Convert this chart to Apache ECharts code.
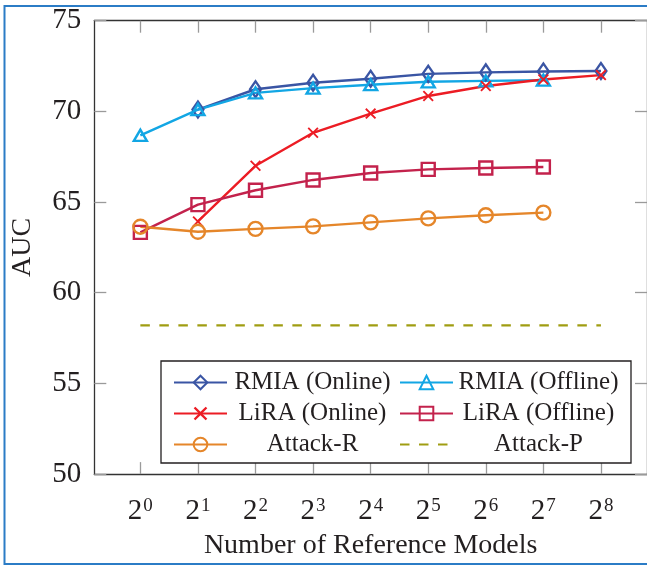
<!DOCTYPE html>
<html>
<head>
<meta charset="utf-8">
<script src="https://cdn.jsdelivr.net/npm/echarts@6/dist/echarts.min.js"></script>
<style>
  html, body { margin: 0; padding: 0; background: #fff; }
  #chart { width: 647px; height: 565px; }
</style>
</head>
<body>
<div id="chart"></div>
<script>
// Number of reference models: 2^0 .. 2^8 (x positions are the exponents)
const exponents = [0, 1, 2, 3, 4, 5, 6, 7, 8];

// AUC values, one per exponent (null where the method was not run)
const rmiaOnline  = [null, 70.1, 71.22, 71.58, 71.8, 72.07, 72.15, 72.2, 72.23];
const rmiaOffline = [68.68, 70.1, 71.02, 71.28, 71.47, 71.63, 71.68, 71.72, null];
const liraOnline  = [null, 63.93, 67.0, 68.82, 69.88, 70.85, 71.4, 71.76, 72.0];
const liraOffline = [63.33, 64.86, 65.65, 66.22, 66.6, 66.8, 66.88, 66.93, null];
const attackR     = [63.64, 63.36, 63.52, 63.66, 63.88, 64.1, 64.27, 64.42, null];
const attackP     = 58.2; // constant across all model counts

const FONT = '"Liberation Serif", "DejaVu Serif", serif';
const TXT = '#231f20';

function pairs(vals) {
  return exponents.map((e, i) => [e, vals[i]]).filter(p => p[1] !== null);
}

const crossPath = 'path://M0,1.2L1.2,0L5,3.8L8.8,0L10,1.2L6.2,5L10,8.8L8.8,10L5,6.2L1.2,10L0,8.8L3.8,5Z';

function markerSeries(name, color, vals, symbol, size, hollow) {
  return {
    name: name,
    type: 'line',
    data: pairs(vals),
    symbol: symbol,
    symbolSize: size,
    showAllSymbol: true,
    lineStyle: { color: color, width: 2.4 },
    itemStyle: hollow
      ? { color: 'rgba(255,255,255,0)', borderColor: color, borderWidth: 2.4 }
      : { color: color, borderWidth: 0 },
    emphasis: { disabled: true },
    z: 3
  };
}

const series = [
  markerSeries('RMIA (Online)', '#3a55a4', rmiaOnline, 'diamond', [11, 16], true),
  markerSeries('RMIA (Offline)', '#12a6e4', rmiaOffline, 'triangle', [13, 11], true),
  markerSeries('LiRA (Online)', '#ec1c24', liraOnline, crossPath, 11, false),
  markerSeries('LiRA (Offline)', '#c3224c', liraOffline, 'rect', 13, true),
  markerSeries('Attack-R', '#e5862a', attackR, 'circle', 14, true),
  {
    name: 'Attack-P',
    type: 'line',
    data: [[exponents[0], attackP], [exponents[exponents.length - 1], attackP]],
    symbol: 'none',
    lineStyle: { color: '#a09d12', width: 2.4, type: [9.5, 9.5] },
    itemStyle: { color: '#a09d12' },
    emphasis: { disabled: true },
    z: 2
  }
];

const gridBox = { left: 94.3, top: 20.7, width: 554.2, height: 460 };

const tickStyle = { show: true, inside: true, length: 12, lineStyle: { color: '#9a9a9a', width: 1.3 } };
const axisLineStyle = { show: true, onZero: false, lineStyle: { color: '#333', width: 1.3 } };

const option = {
  animation: false,
  backgroundColor: '#fff',
  textStyle: { fontFamily: FONT },
  grid: Object.assign({ containLabel: false }, gridBox),
  xAxis: [
    {
      type: 'value', min: -0.8, max: 8.8, position: 'bottom',
      axisLine: axisLineStyle,
      axisTick: Object.assign({ customValues: exponents }, tickStyle),
      splitLine: { show: false },
      axisLabel: {
        customValues: exponents,
        margin: 22,
        formatter: v => '{b|2}{s|' + v + '}',
        rich: {
          b: { fontFamily: FONT, fontSize: 29, color: TXT, verticalAlign: 'bottom', lineHeight: 30 },
          s: { fontFamily: FONT, fontSize: 19, color: TXT, verticalAlign: 'top', lineHeight: 30, padding: [0, 0, 12, 1] }
        }
      },
      name: 'Number of Reference Models',
      nameLocation: 'middle',
      nameGap: 57,
      nameTextStyle: { fontFamily: FONT, fontSize: 28, color: TXT }
    },
    {
      type: 'value', min: -0.8, max: 8.8, position: 'top',
      axisLine: axisLineStyle,
      axisTick: Object.assign({ customValues: exponents }, tickStyle),
      axisLabel: { show: false },
      splitLine: { show: false }
    }
  ],
  yAxis: [
    {
      type: 'value', min: 50, max: 75, interval: 5, position: 'left',
      axisLine: axisLineStyle,
      axisTick: tickStyle,
      splitLine: { show: false },
      axisLabel: { margin: 13, fontFamily: FONT, fontSize: 29, color: TXT },
      name: 'AUC',
      nameLocation: 'middle',
      nameGap: 58,
      nameRotate: 90,
      nameTextStyle: { fontFamily: FONT, fontSize: 28, color: TXT }
    },
    {
      type: 'value', min: 50, max: 75, interval: 5, position: 'right',
      axisLine: axisLineStyle,
      axisTick: tickStyle,
      axisLabel: { show: false },
      splitLine: { show: false }
    }
  ],
  legend: {
    left: 161, top: 361,
    width: 458,
    orient: 'horizontal',
    padding: [9, 12, 6, 12],
    itemGap: 6,
    itemWidth: 53,
    itemHeight: 17,
    borderColor: '#231f20',
    borderWidth: 1.3,
    backgroundColor: '#fff',
    selectedMode: false,
    data: series.map(s => s.name === 'Attack-P'
      ? { name: s.name, itemStyle: { opacity: 0 } }
      : s.name),
    formatter: n => '{t|' + n + '}',
    textStyle: {
      rich: {
        t: { fontFamily: FONT, fontSize: 25, color: TXT, width: 161, align: 'center', lineHeight: 26.5 }
      }
    }
  },
  graphic: [
    {
      type: 'rect', silent: true, z: 100,
      shape: { x: 4.5, y: 6, width: 700, height: 558 },
      style: { fill: null, stroke: '#2b7cc6', lineWidth: 2 }
    }
  ],
  series: series
};

const chart = echarts.init(document.getElementById('chart'), null, { renderer: 'canvas' });
chart.setOption(option);
</script>
</body>
</html>
